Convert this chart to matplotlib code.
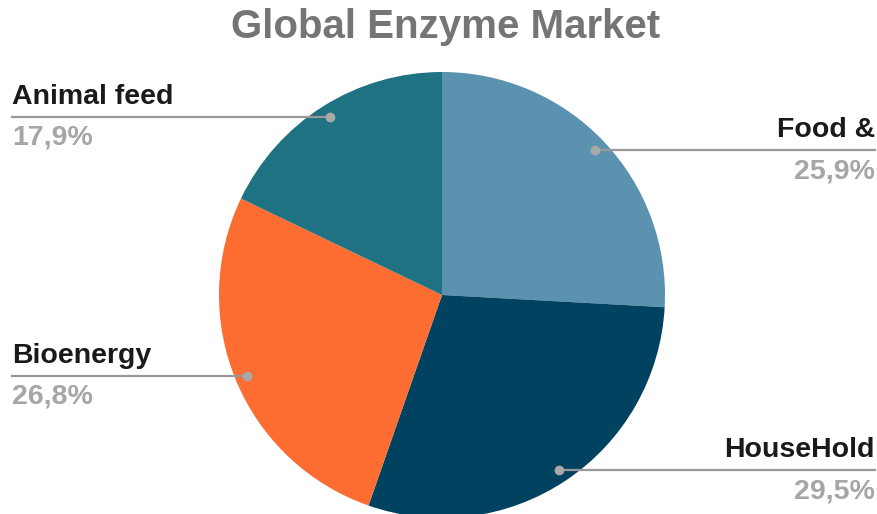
import numpy as np
import matplotlib
matplotlib.use("Agg")
import matplotlib.pyplot as plt

# market share by application, clockwise from 12 o'clock
categories = ["Food &", "HouseHold", "Bioenergy", "Animal feed"]
shares = [25.9, 29.5, 26.8, 17.9]
colors = ["#5a92b0", "#00425f", "#fd6c30", "#1e7282"]

W, H = 878, 514
fig = plt.figure(figsize=(W / 100, H / 100), dpi=100)
ax = fig.add_axes([0, 0, 1, 1])

cx, cy, r = 442, H - 295, 223
wedges, _ = ax.pie(shares, colors=colors, startangle=90, counterclock=False,
                   radius=r, center=(cx, cy), frame=True)
ax.set_xlim(0, W)
ax.set_ylim(0, H)
ax.axis("off")

plt.rcParams["font.family"] = ["Liberation Sans", "DejaVu Sans"]

fig.text(446 / W, 1 - 27 / H, "Global Enzyme Market", ha="center", va="center",
         fontsize=29, fontweight="bold", color="#757575")

for w, name, val in zip(wedges, categories, shares):
    ang = np.deg2rad((w.theta1 + w.theta2) / 2)
    px = cx + 0.945 * r * np.cos(ang)
    py = cy + 0.945 * r * np.sin(ang)
    right = px > cx
    x_end = 875 if right else 12
    ha = "right" if right else "left"
    ax.plot([px, x_end], [py, py], color="#999999", lw=1.6, zorder=3)
    ax.plot(px, py, "o", ms=6, color="#a9a9a9", zorder=4)
    ax.text(x_end, py + 20, name, ha=ha, va="center", fontsize=20.5,
            fontweight="bold", color="#1a1a1a")
    ax.text(x_end, py - 21, f"{val:.1f}%".replace(".", ","), ha=ha, va="center",
            fontsize=20.5, fontweight="bold", color="#a6a6a6")

fig.savefig("out.png", dpi=100, facecolor="white")
